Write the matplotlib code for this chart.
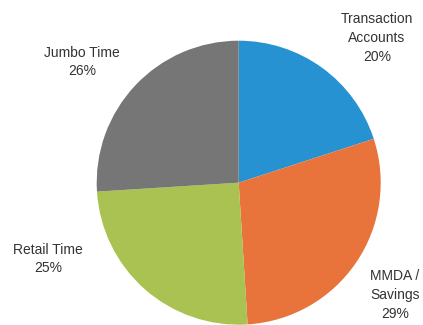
import matplotlib.pyplot as plt

# Deposit mix shares (percent), clockwise from 12 o'clock
labels = ["Transaction\nAccounts", "MMDA /\nSavings", "Retail Time", "Jumbo Time"]
shares = [20, 29, 25, 26]
colors = ["#2692D2", "#E8743B", "#A9C251", "#767676"]

# label anchor points in pixel coords (x from left, y from top)
label_xy = [(377, 38), (395, 295), (48, 259), (82, 62)]

W, H = 423, 325
fig = plt.figure(figsize=(W / 100, H / 100), dpi=100)
ax = fig.add_axes([0, 0, 1, 1])

ax.pie(shares, colors=colors, startangle=90, counterclock=False,
       center=(238.7, H - 182.7), radius=142, frame=True,
       wedgeprops={"linewidth": 0})
ax.set_xlim(0, W)
ax.set_ylim(0, H)
ax.set_aspect("equal")
ax.axis("off")

for name, val, (x, y) in zip(labels, shares, label_xy):
    ax.text(x, H - y, f"{name}\n{val}%", ha="center", va="center",
            fontsize=10, family="Liberation Sans", color="#333333",
            linespacing=1.45)

plt.savefig("out.png", dpi=100)
